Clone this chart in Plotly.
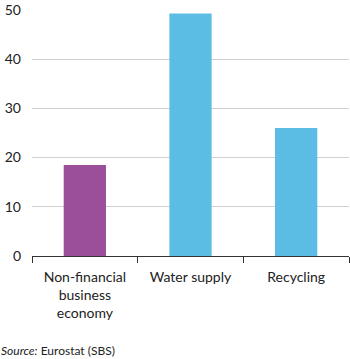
import plotly.graph_objects as go

categories = ["Non-financial<br>business<br>economy", "Water supply", "Recycling"]
values = [18.5, 49.3, 26.0]
colors = ["#9b4f9b", "#5bbce4", "#5bbce4"]
y_ticks = [0, 10, 20, 30, 40, 50]

fig = go.Figure()
fig.add_trace(go.Bar(
    x=categories, y=values,
    marker=dict(color=colors, line=dict(width=0)),
    width=0.4,
))

FONT = "Lato, Noto Sans, sans-serif"
fig.update_layout(
    width=350, height=359,
    margin=dict(l=32, r=1, t=5, b=103),
    paper_bgcolor="white", plot_bgcolor="white",
    showlegend=False,
    font=dict(family=FONT, size=14, color="#222222"),
    xaxis=dict(
        showline=True, linecolor="#333333", linewidth=1,
        ticks="outside", tickson="boundaries", ticklen=6, tickcolor="#333333",
        tickfont=dict(size=14, color="#222222"),
        ticklabelstandoff=8,
        showgrid=False,
    ),
    yaxis=dict(
        range=[0, 50.2], tickvals=y_ticks, showgrid=True,
        gridcolor="#d0d0d0", gridwidth=1, zeroline=False,
        showline=False, ticks="", tickfont=dict(size=14, color="#222222"),
        ticklabelstandoff=10, ticklabeloverflow="allow",
    ),
    annotations=[dict(
        text="<i>Source:</i> Eurostat (SBS)", xref="paper", yref="paper",
        x=-32/317, y=-103/251, xanchor="left", yanchor="bottom",
        yshift=-3, xshift=-1,
        showarrow=False, font=dict(size=12, color="#222222", family=FONT),
    )],
)

fig.write_html("out.html")
